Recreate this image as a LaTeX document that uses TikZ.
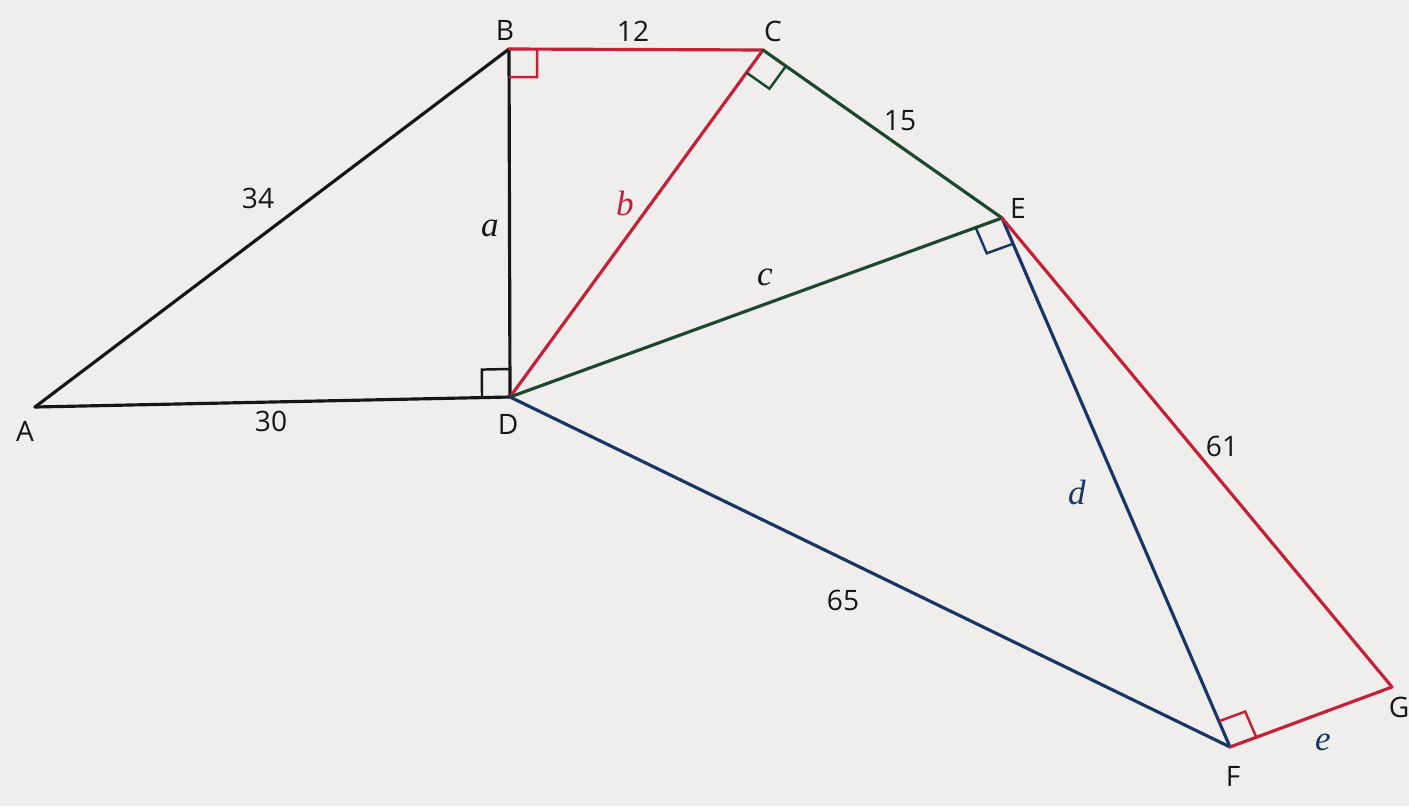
\documentclass[tikz,border=0pt]{standalone}
\usepackage{fontspec}
\setmainfont{Open Sans}
\newfontfamily\varfont{Liberation Serif}
\usetikzlibrary{calc}
\definecolor{edgered}{RGB}{196, 32, 56}
\definecolor{edgegreen}{RGB}{30, 72, 46}
\definecolor{edgeblue}{RGB}{24, 54, 100}
\definecolor{inkblack}{RGB}{22, 22, 22}
\definecolor{paper}{RGB}{239, 238, 236}

% size of the right-angle squares
\newcommand{\rsz}{0.28cm}
% right-angle square at #1 between the sides towards #2 and #3
\newcommand{\ramark}[4]{%
  \draw[rmark, #4] ($(#1)!\rsz!(#2)$)
    -- ($(#1)!\rsz!(#2) + (#1)!\rsz!(#3) - (#1)$)
    -- ($(#1)!\rsz!(#3)$);}

\begin{document}
\begin{tikzpicture}[
  x=0.01cm, y=-0.01cm,
  edge/.style  = {line width=0.9pt, line cap=round, color=inkblack},
  rmark/.style = {line width=0.7pt, color=inkblack},
  lbl/.style   = {font=\fontsize{8}{9.5}\selectfont, text=inkblack, inner sep=1pt},
  var/.style   = {font=\varfont\itshape\fontsize{10}{12}\selectfont, text=inkblack, inner sep=1pt}
]
  \useasboundingbox (0,0) rectangle (1409,806);
  \fill[paper] (0,0) rectangle (1409,806);

  % ---- Vertices ----
  \coordinate (A) at (35,  407);
  \coordinate (B) at (509, 49);
  \coordinate (C) at (763, 50);
  \coordinate (D) at (510, 397);
  \coordinate (E) at (1002,218);
  \coordinate (F) at (1230,747);
  \coordinate (G) at (1392,687);

  % ---- Sides ----
  \draw[edge] (A) -- (B);
  \draw[edge] (A) -- (D);
  \draw[edge] (B) -- (D);
  \draw[edge, edgered]   (B) -- (C);
  \draw[edge, edgered]   (C) -- (D);
  \draw[edge, edgegreen] (C) -- (E);
  \draw[edge, edgegreen] (D) -- (E);
  \draw[edge, edgeblue]  (D) -- (F);
  \draw[edge, edgeblue]  (E) -- (F);
  \draw[edge, edgered]   (E) -- (G);
  \draw[edge, edgered]   (F) -- (G);

  % ---- Right angles ----
  \ramark{B}{C}{D}{edgered}
  \ramark{D}{A}{B}{inkblack}
  \ramark{C}{D}{E}{edgegreen}
  \ramark{E}{D}{F}{edgeblue}
  \ramark{F}{E}{G}{edgered}

  % ---- Vertex names ----
  \node[lbl] (nA) at (25,  431) {A};
  \node[lbl] (nB) at (505, 30)  {B};
  \node[lbl] (nC) at (773, 31)  {C};
  \node[lbl] (nD) at (508, 424) {D};
  \node[lbl] (nE) at (1018,208) {E};
  \node[lbl] (nF) at (1233,776) {F};
  \node[lbl] (nG) at (1399,707) {G};

  % ---- Side lengths ----
  \node[lbl] (l12) at (633, 31)  {12};
  \node[lbl] (l15) at (900, 121) {15};
  \node[lbl] (l34) at (258, 198) {34};
  \node[lbl] (l30) at (271, 421) {30};
  \node[lbl] (l65) at (843, 600) {65};
  \node[lbl] (l61) at (1222,446) {61};

  % ---- Unknown sides ----
  \node[var]                 (va) at (490, 228) {a};
  \node[var, text=edgered]   (vb) at (625, 203) {b};
  \node[var]                 (vc) at (765, 277) {c};
  \node[var, text=edgeblue]  (vd) at (1077,492) {d};
  \node[var, text=edgeblue]  (ve) at (1323,742) {e};
\end{tikzpicture}
\end{document}
